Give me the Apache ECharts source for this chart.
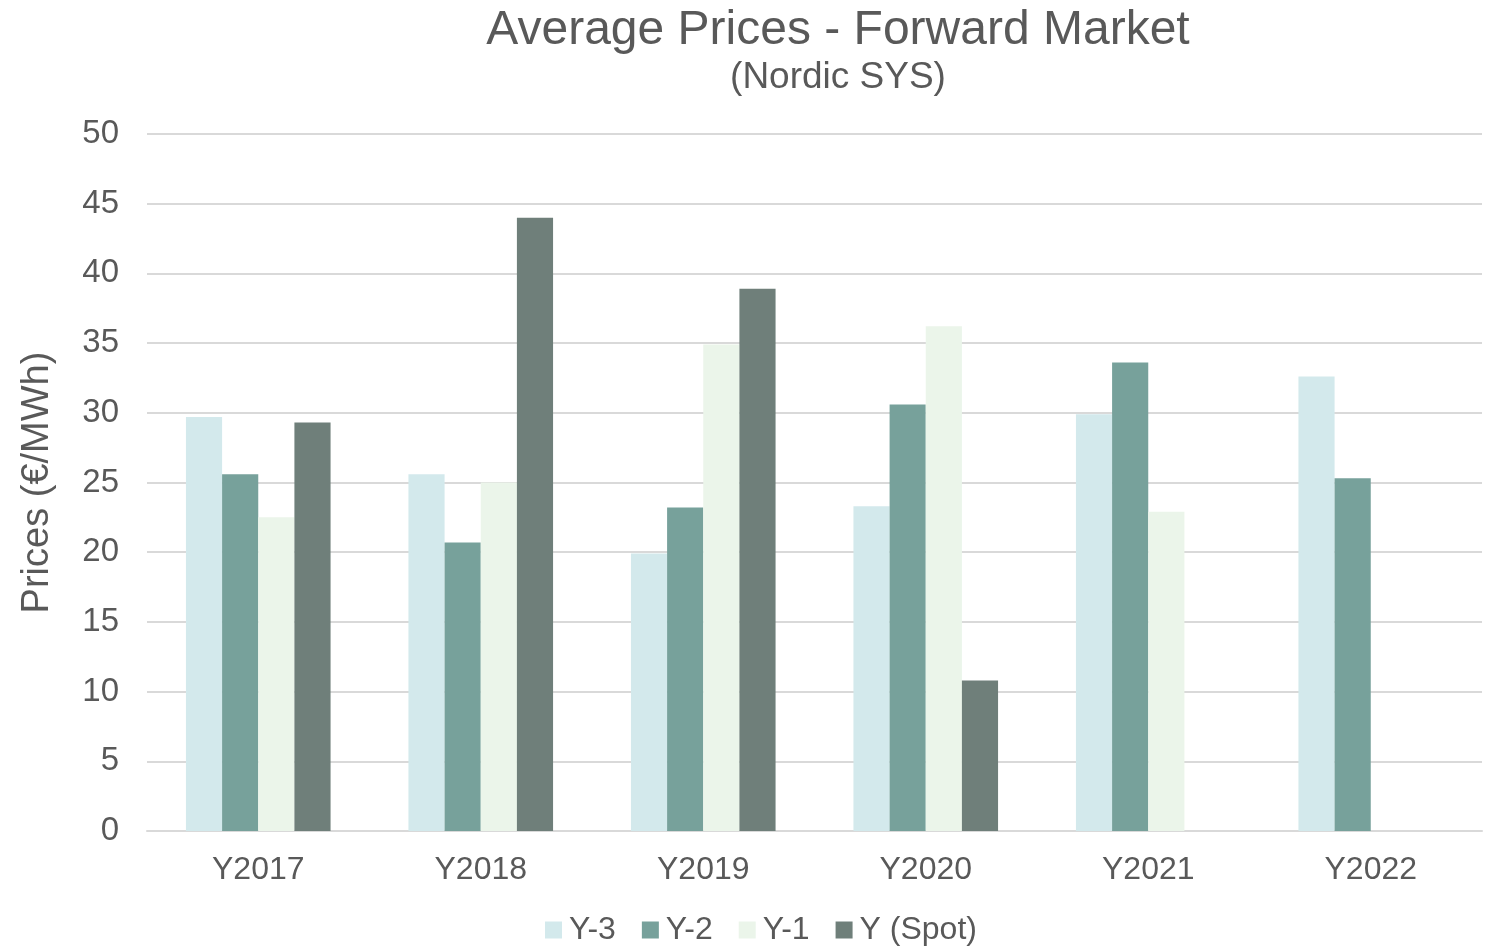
<!DOCTYPE html>
<html>
<head>
<meta charset="utf-8">
<script src="https://cdn.jsdelivr.net/npm/echarts@6/dist/echarts.min.js"></script>
<style>
  html, body { margin: 0; padding: 0; background: #fff; }
  #chart { width: 1485px; height: 946px; }
</style>
</head>
<body>
<div id="chart"></div>
<script>
let years = ['Y2017', 'Y2018', 'Y2019', 'Y2020', 'Y2021', 'Y2022'];
let y3 = [29.7, 25.6, 19.9, 23.3, 29.9, 32.6];
let y2 = [25.6, 20.7, 23.2, 30.6, 33.6, 25.3];
let y1 = [22.5, 25.0, 34.9, 36.2, 22.9, null];
let spot = [29.3, 44.0, 38.9, 10.8, null, null];

let chart = echarts.init(document.getElementById('chart'));
let textColor = '#595959';
let font = 'Liberation Sans, Arial, sans-serif';

// one bar series per horizon
let makeBar = function (name, data, color) {
  return {
    name: name,
    type: 'bar',
    data: data,
    barGap: '0%',
    barCategoryGap: '35%',
    itemStyle: { color: color }
  };
};

chart.setOption({
  backgroundColor: '#fff',
  textStyle: { fontFamily: font, color: textColor },
  title: {
    text: 'Average Prices - Forward Market',
    subtext: '(Nordic SYS)',
    left: 833,
    textAlign: 'center',
    top: 2,
    itemGap: 4,
    textStyle: { fontFamily: font, fontSize: 48, fontWeight: 'normal', color: textColor },
    subtextStyle: { fontFamily: font, fontSize: 37, color: textColor }
  },
  legend: {
    top: 909,
    left: 540,
    itemWidth: 17,
    itemHeight: 17,
    itemGap: 26,
    icon: 'rect',
    textStyle: { fontFamily: font, fontSize: 32, color: textColor, padding: [0, 0, 0, 2] },
    data: ['Y-3', 'Y-2', 'Y-1', 'Y (Spot)']
  },
  grid: { left: 147, right: 3, top: 134, bottom: 115 },
  xAxis: {
    type: 'category',
    data: years,
    axisTick: { show: false },
    axisLine: { lineStyle: { color: '#d9d9d9', width: 2 } },
    axisLabel: { fontSize: 32, color: textColor, margin: 23 }
  },
  yAxis: {
    type: 'value',
    min: 0,
    max: 50,
    interval: 5,
    name: 'Prices (€/MWh)',
    nameLocation: 'middle',
    nameGap: 90,
    nameTextStyle: { fontSize: 38, color: textColor },
    axisLabel: { fontSize: 33, color: textColor, margin: 28 },
    splitLine: { lineStyle: { color: '#d9d9d9', width: 2 } }
  },
  series: [
    makeBar('Y-3', y3, '#d3e9ec'),
    makeBar('Y-2', y2, '#77a19b'),
    makeBar('Y-1', y1, '#ebf5ea'),
    makeBar('Y (Spot)', spot, '#6f7f7a')
  ]
});
</script>
</body>
</html>
